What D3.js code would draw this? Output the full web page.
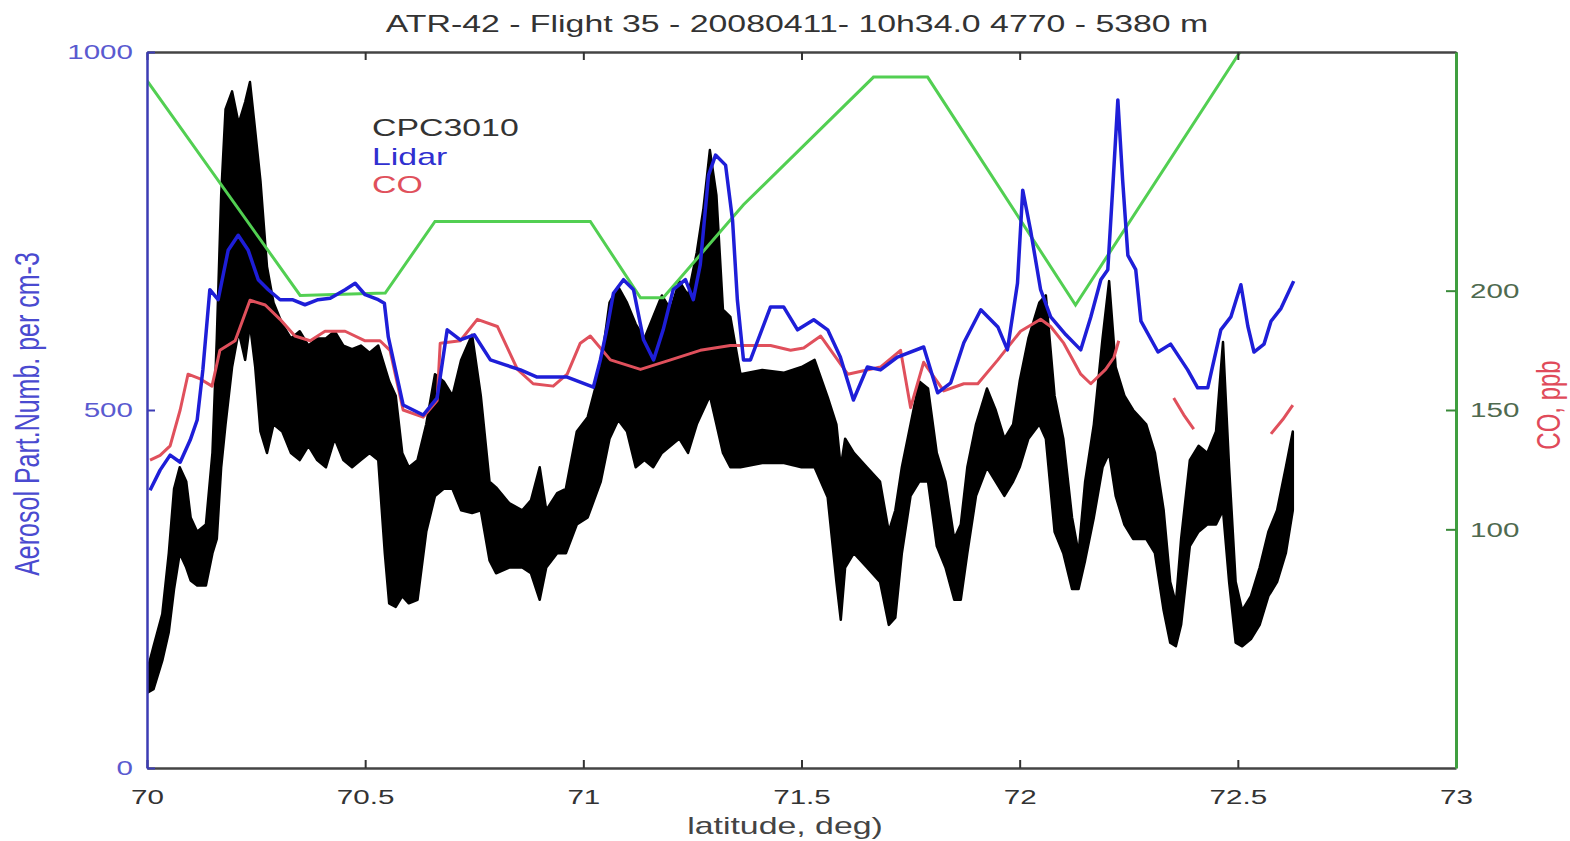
<!DOCTYPE html>
<html><head><meta charset="utf-8">
<script src="https://cdn.jsdelivr.net/npm/d3@7"></script>
<style>html,body{margin:0;padding:0;background:#fff;}svg{display:block;}</style>
</head><body>
<svg id="c" width="1570" height="841"></svg>
<script>
// ---------- DATA ----------
const titleText = "ATR-42 - Flight 35 - 20080411- 10h34.0  4770 - 5380 m";
const xTicks = [70, 70.5, 71, 71.5, 72, 72.5, 73];
const xTickLabels = ["70", "70.5", "71", "71.5", "72", "72.5", "73"];
const leftTicks = [0, 500, 1000];
const leftTickLabels = ["0", "500", "1000"];
const rightTicks = [100, 150, 200];
const rightTickLabels = ["100", "150", "200"];
const legendNames = ["CPC3010", "Lidar", "CO"];

// CPC3010 (noisy signal): latitude, upper and lower envelope of the trace
const cpcLat = [70.000,70.015,70.035,70.050,70.062,70.075,70.090,70.100,70.115,70.135,70.150,70.160,70.170,70.180,70.195,70.210,70.225,70.236,70.248,70.260,70.275,70.290,70.310,70.330,70.350,70.370,70.390,70.410,70.430,70.450,70.470,70.490,70.510,70.530,70.545,70.555,70.570,70.585,70.600,70.620,70.640,70.660,70.680,70.700,70.720,70.745,70.765,70.785,70.800,70.830,70.860,70.880,70.900,70.915,70.940,70.960,70.985,71.010,71.040,71.060,71.080,71.100,71.120,71.140,71.160,71.180,71.200,71.220,71.240,71.260,71.275,71.290,71.305,71.320,71.337,71.360,71.410,71.460,71.500,71.530,71.560,71.580,71.590,71.600,71.620,71.650,71.680,71.700,71.715,71.730,71.750,71.770,71.790,71.810,71.830,71.850,71.865,71.880,71.900,71.925,71.945,71.965,71.985,72.000,72.020,72.045,72.060,72.080,72.100,72.120,72.135,72.150,72.170,72.190,72.205,72.220,72.240,72.260,72.290,72.310,72.330,72.345,72.358,72.370,72.390,72.410,72.430,72.450,72.466,72.480,72.495,72.510,72.530,72.550,72.570,72.590,72.610,72.626];
const cpcHigh = [135,170,215,300,390,420,400,350,330,340,440,600,800,920,945,900,930,958,890,820,700,650,620,600,610,590,600,600,610,590,585,590,580,590,560,540,520,440,420,430,480,550,540,520,570,605,520,400,392,370,360,374,420,360,384,390,470,490,560,650,672,650,620,600,630,660,640,680,660,720,780,863,800,640,630,550,556,552,560,570,518,480,420,460,440,420,400,330,360,420,480,540,530,440,400,320,340,420,480,530,500,460,480,540,600,650,660,520,460,350,300,400,480,600,680,560,520,500,480,440,360,260,230,320,430,450,440,470,595,420,260,220,240,280,330,360,420,470];
const cpcLow = [105,110,150,190,250,300,280,262,255,255,300,320,420,480,560,610,570,620,560,470,440,480,470,440,430,450,430,420,460,430,420,430,440,430,300,230,225,240,230,235,330,380,390,390,360,356,360,290,272,280,280,272,235,280,300,300,340,350,400,460,486,470,420,430,420,440,450,460,440,480,500,520,480,440,420,420,426,426,420,420,378,260,207,280,300,280,260,200,210,300,380,400,400,310,280,235,235,300,380,420,400,380,400,420,460,480,460,330,300,250,250,290,350,420,440,380,340,320,320,300,220,175,170,200,310,330,340,340,360,260,175,170,180,200,240,260,300,360];

// Lidar (left axis)
const lidarLat = [70.007,70.030,70.053,70.076,70.099,70.115,70.128,70.144,70.163,70.186,70.209,70.232,70.255,70.278,70.305,70.333,70.362,70.392,70.420,70.454,70.477,70.500,70.530,70.544,70.553,70.587,70.633,70.665,70.688,70.718,70.750,70.787,70.821,70.856,70.894,70.963,71.023,71.039,71.055,71.069,71.092,71.115,71.138,71.161,71.183,71.206,71.234,71.252,71.268,71.287,71.303,71.326,71.342,71.353,71.367,71.383,71.429,71.459,71.491,71.528,71.560,71.589,71.619,71.651,71.681,71.720,71.780,71.812,71.842,71.872,71.911,71.950,71.972,71.995,72.007,72.025,72.048,72.071,72.106,72.140,72.163,72.186,72.202,72.213,72.225,72.236,72.248,72.266,72.278,72.317,72.346,72.385,72.408,72.431,72.461,72.484,72.507,72.523,72.537,72.560,72.576,72.599,72.628];
const lidarVal = [388,416,437,427,458,486,556,668,654,723,744,723,682,668,654,654,647,654,656,668,677,661,654,649,602,507,493,517,612,598,605,570,563,556,546,546,532,570,616,663,682,668,598,570,612,668,682,654,703,828,856,842,765,654,570,570,644,644,612,626,612,574,514,560,556,574,588,524,538,594,640,616,584,677,807,751,668,630,605,584,630,682,696,807,933,821,716,696,624,581,592,556,531,531,612,630,675,617,581,592,624,642,680];

// CO (right axis, ppb); null = gap in the record
const coLat = [70.007,70.030,70.053,70.076,70.094,70.122,70.149,70.167,70.202,70.236,70.271,70.305,70.339,70.374,70.408,70.454,70.500,70.534,70.557,70.587,70.633,70.665,70.672,70.718,70.757,70.803,70.826,70.849,70.885,70.931,70.963,70.993,71.016,71.062,71.131,71.200,71.268,71.337,71.383,71.429,71.475,71.505,71.544,71.606,71.681,71.727,71.750,71.780,71.826,71.872,71.904,71.950,72.002,72.048,72.071,72.101,72.140,72.163,72.197,72.216,72.227,72.290,72.353,72.376,72.399,72.490,72.576,72.603,72.626];
const coVal = [129,131,135,150,165,163,160,175,179,196,194,188,181,179,183,183,179,179,175,150,147,154,178,179,188,185,176,167,161,160,165,178,181,171,167,171,175,177,177,177,175,176,181,165,168,175,151,170,158,161,161,171,183,188,185,178,165,161,167,172,179,null,155,148,142,null,140,146,152];

// Green trace (right axis units)
const greenLat = [70.000,70.351,70.546,70.660,71.016,71.131,71.183,71.367,71.665,71.789,72.128,72.505];
const greenVal = [288,198,199,229,229,197,197,236,289.5,289.5,194,300];

// ---------- DRAWING ----------
const SX = 1.41; // horizontal stretch of the original rendering
const FONT = "'Liberation Sans', Arial, Helvetica, sans-serif";
const L = 147, R = 1456, T = 52, B = 768;
const svg = d3.select("#c").style("font-family", FONT);

const x = d3.scaleLinear().domain([70, 73]).range([L, R]);
const yL = d3.scaleLinear().domain([0, 1000]).range([B, T]);
const yR = d3.scaleLinear().domain([0, 300]).range([B, T]);

svg.append("defs").append("clipPath").attr("id", "clip")
  .append("rect").attr("x", L).attr("y", T).attr("width", R - L).attr("height", B - T);

function stretchedText(px, py, txt, opts) {
  const g = svg.append("g").attr("transform",
    `translate(${px},${py}) scale(${SX},1)` + (opts.rotate ? ` rotate(${opts.rotate})` : ""));
  g.append("text").attr("text-anchor", opts.anchor || "start")
    .attr("font-size", opts.size).attr("fill", opts.color).text(txt);
  return g;
}

const plot = svg.append("g").attr("clip-path", "url(#clip)");

// CPC3010 band
const cpc = cpcLat.map((d, i) => ({lat: d, hi: cpcHigh[i], lo: cpcLow[i]}));
plot.append("path").datum(cpc)
  .attr("d", d3.area().x(d => x(d.lat)).y0(d => yL(d.lo)).y1(d => yL(d.hi)))
  .attr("fill", "#000").attr("stroke", "#000").attr("stroke-width", 2.5).attr("stroke-linejoin", "round");

// green
const green = greenLat.map((d, i) => ({lat: d, v: greenVal[i]}));
plot.append("path").datum(green)
  .attr("d", d3.line().x(d => x(d.lat)).y(d => yR(d.v)))
  .attr("fill", "none").attr("stroke", "#52cf52").attr("stroke-width", 3);

// CO
const co = coLat.map((d, i) => ({lat: d, v: coVal[i]}));
plot.append("path").datum(co)
  .attr("d", d3.line().defined(d => d.v != null).x(d => x(d.lat)).y(d => yR(d.v)))
  .attr("fill", "none").attr("stroke", "#e0505c").attr("stroke-width", 3).attr("stroke-linejoin", "round");

// Lidar
const lidar = lidarLat.map((d, i) => ({lat: d, v: lidarVal[i]}));
plot.append("path").datum(lidar)
  .attr("d", d3.line().x(d => x(d.lat)).y(d => yL(d.v)))
  .attr("fill", "none").attr("stroke", "#1e1ed8").attr("stroke-width", 3.5).attr("stroke-linejoin", "round");

// ---------- AXES ----------
const gB = svg.append("g").attr("transform", `translate(0,${B})`)
  .call(d3.axisBottom(x).tickValues(xTicks).tickFormat((d, i) => xTickLabels[i])
    .tickSizeInner(-8).tickSizeOuter(0).tickPadding(21));
gB.select(".domain").attr("stroke", "#444").attr("stroke-width", 2.5);
gB.selectAll(".tick line").attr("stroke", "#333").attr("stroke-width", 2);
gB.selectAll(".tick text").attr("font-size", 21).attr("font-family", FONT).attr("fill", "#333")
  .attr("transform", `scale(${SX},1)`);

const gT = svg.append("g").attr("transform", `translate(0,${T})`)
  .call(d3.axisTop(x).tickValues(xTicks).tickFormat("").tickSizeInner(-8).tickSizeOuter(0));
gT.select(".domain").attr("stroke", "#444").attr("stroke-width", 2.5);
gT.selectAll(".tick line").attr("stroke", "#333").attr("stroke-width", 2);

const gLft = svg.append("g").attr("transform", `translate(${L},0)`)
  .call(d3.axisLeft(yL).tickValues(leftTicks).tickFormat((d, i) => leftTickLabels[i])
    .tickSizeInner(-8).tickSizeOuter(0).tickPadding(14));
gLft.select(".domain").attr("stroke", "#3c3cb4").attr("stroke-width", 2.5);
gLft.selectAll(".tick line").attr("stroke", "#3c3cb4").attr("stroke-width", 2);
gLft.selectAll(".tick text").attr("font-size", 21).attr("font-family", FONT).attr("fill", "#5a5ad0")
  .attr("x", -14 / SX).attr("transform", `scale(${SX},1)`);

const gRt = svg.append("g").attr("transform", `translate(${R},0)`)
  .call(d3.axisRight(yR).tickValues(rightTicks).tickFormat((d, i) => rightTickLabels[i])
    .tickSizeInner(-10).tickSizeOuter(0).tickPadding(14));
gRt.select(".domain").attr("stroke", "#3f9f3f").attr("stroke-width", 3);
gRt.selectAll(".tick line").attr("stroke", "#3a8a3a").attr("stroke-width", 2);
gRt.selectAll(".tick text").attr("font-size", 21).attr("font-family", FONT).attr("fill", "#4f6a4f")
  .attr("x", 14 / SX).attr("transform", `scale(${SX},1)`);

// ---------- TEXTS ----------
stretchedText(797, 32, titleText, {anchor: "middle", size: 24, color: "#333"});
stretchedText(785, 834, "latitude, deg)", {anchor: "middle", size: 24, color: "#444"});
stretchedText(39, 414, "Aerosol Part.Numb. per cm-3", {anchor: "middle", size: 25, color: "#4a4ad0", rotate: -90});
stretchedText(1560, 405, "CO, ppb", {anchor: "middle", size: 24, color: "#e04a5a", rotate: -90});

const legendColors = ["#333", "#3030d0", "#e0505c"];
legendNames.forEach((n, i) => {
  stretchedText(372, 136 + i * 28.5, n, {anchor: "start", size: 24, color: legendColors[i]});
});
</script>
</body></html>
